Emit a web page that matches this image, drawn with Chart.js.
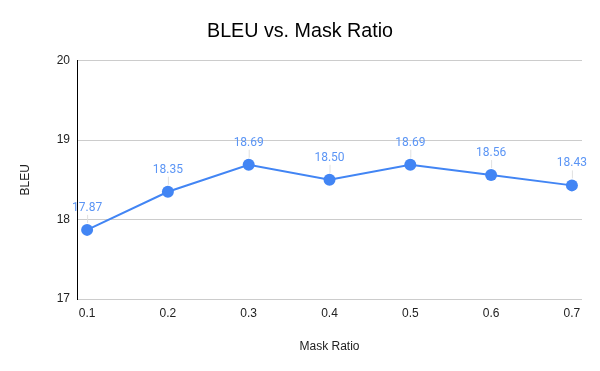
<!DOCTYPE html>
<html>
<head>
<meta charset="utf-8">
<script src="https://cdn.jsdelivr.net/npm/chart.js@4/dist/chart.umd.min.js"></script>
<style>
  html, body { margin: 0; padding: 0; background: #fff; }
  #wrap { width: 600px; height: 371px; }
</style>
</head>
<body>
<div id="wrap"><canvas id="chart"></canvas></div>
<script>
// 数据
const maskRatios = [0.1, 0.2, 0.3, 0.4, 0.5, 0.6, 0.7];
const xTickLabels = ['0.1', '0.2', '0.3', '0.4', '0.5', '0.6', '0.7'];
const bleuScores = [17.87, 18.35, 18.69, 18.50, 18.69, 18.56, 18.43];
const yTicks = [17, 18, 19, 20];

const lineColor = '#4285f4';

// 点上方的数值标签
const valueLabels = {
    id: 'valueLabels',
    afterDatasetsDraw(chart) {
        const ctx = chart.ctx;
        const meta = chart.getDatasetMeta(0);
        ctx.save();
        meta.data.forEach((pt, i) => {
            ctx.strokeStyle = '#e0e0e0';
            ctx.lineWidth = 1;
            ctx.beginPath();
            ctx.moveTo(pt.x + 0.5, pt.y - 7);
            ctx.lineTo(pt.x + 0.5, pt.y - 15);
            ctx.stroke();
            ctx.fillStyle = '#5b95f5';
            ctx.font = '12px Roboto, "Liberation Sans", sans-serif';
            ctx.textAlign = 'center';
            ctx.textBaseline = 'middle';
            ctx.fillText(bleuScores[i].toFixed(2), pt.x, pt.y - 22);
        });
        ctx.restore();
    }
};

const ctx = document.getElementById('chart').getContext('2d');
new Chart(ctx, {
    type: 'line',
    data: {
        datasets: [{
            data: maskRatios.map((r, i) => ({ x: r, y: bleuScores[i] })),
            borderColor: lineColor,
            backgroundColor: lineColor,
            borderWidth: 2,
            pointRadius: 6,
            pointHoverRadius: 6,
            pointBorderWidth: 0,
            tension: 0
        }]
    },
    options: {
        responsive: true,
        maintainAspectRatio: false,
        animation: false,
        layout: { padding: { left: 18, right: 18, top: 0, bottom: 0 } },
        font: { family: '"Liberation Sans", Arial, sans-serif' },
        plugins: {
            legend: { display: false },
            tooltip: { enabled: false },
            title: {
                display: true,
                text: 'BLEU vs. Mask Ratio',
                color: '#000',
                font: { size: 19.7, weight: 'normal', family: '"Liberation Sans", Arial, sans-serif' },
                padding: { top: 20, bottom: 17 }
            }
        },
        scales: {
            x: {
                type: 'linear',
                min: 0.0875,
                max: 0.7125,
                afterBuildTicks: scale => { scale.ticks = maskRatios.map(v => ({ value: v })); },
                afterFit: scale => { scale.height = 72; },
                grid: { display: false, drawTicks: false },
                border: { display: false },
                ticks: {
                    padding: 7,
                    color: '#222',
                    font: { size: 12 },
                    maxRotation: 0,
                    callback: (v, i) => xTickLabels[i]
                },
                title: {
                    display: true,
                    text: 'Mask Ratio',
                    color: '#222',
                    font: { size: 12 },
                    padding: { top: 0, bottom: 17 }
                }
            },
            y: {
                min: 17,
                max: 20,
                afterBuildTicks: scale => { scale.ticks = yTicks.map(v => ({ value: v })); },
                afterFit: scale => { scale.width = 59; },
                grid: { color: '#cccccc', drawTicks: false },
                border: { display: true, color: '#000', width: 1 },
                ticks: {
                    padding: 7,
                    color: '#222',
                    font: { size: 12 }
                },
                title: {
                    display: true,
                    text: 'BLEU',
                    color: '#222',
                    font: { size: 12 },
                    padding: { top: 0, bottom: 0 }
                }
            }
        }
    },
    plugins: [valueLabels]
});
</script>
</body>
</html>
